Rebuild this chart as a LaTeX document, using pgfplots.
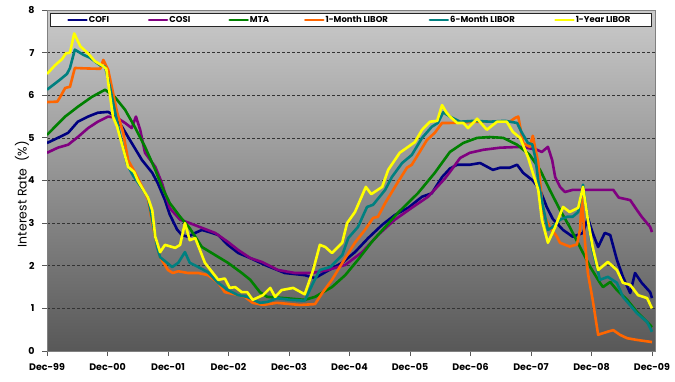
\documentclass[border=0pt]{standalone}
\usepackage{fontspec}
\setmainfont{Poppins}
\usepackage{pgfplots}
\pgfplotsset{compat=1.18}
\definecolor{cofi}{RGB}{0,0,128}
\definecolor{cosi}{RGB}{128,0,128}
\definecolor{mta}{RGB}{0,128,0}
\definecolor{onem}{RGB}{255,102,0}
\definecolor{sixm}{RGB}{0,128,128}
\definecolor{oney}{RGB}{255,255,0}
\definecolor{bgtop}{RGB}{202,202,202}
\definecolor{bgbot}{RGB}{88,88,88}
\begin{document}
\begin{tikzpicture}
\useasboundingbox (0,0) rectangle (675pt,381pt);
\begin{axis}[
  at={(47pt,30pt)}, anchor=south west,
  scale only axis, width=608pt, height=341pt,
  xmin=0, xmax=10.05, ymin=0, ymax=8,
  xtick={0,1,2,3,4,5,6,7,8,9,10},
  xticklabels={Dec-99,Dec-00,Dec-01,Dec-02,Dec-03,Dec-04,Dec-05,Dec-06,Dec-07,Dec-08,Dec-09},
  ytick={0,1,2,3,4,5,6,7,8},
  /pgf/number format/assume math mode=true,
  ticklabel style={font=\fontsize{9.5}{11}\selectfont\bfseries},
  xticklabel style={yshift=-4pt},
  yticklabel style={xshift=-4pt},
  tick align=outside, xtick pos=bottom, ytick pos=left,
  major tick length=5pt,
  tick style={black!65, line width=0.8pt},
  axis line style={black!50, line width=0.9pt},
  ymajorgrids,
  major grid style={black!80, line width=0.6pt, dash pattern=on 3pt off 2pt},
  axis background/.style={top color=bgtop, bottom color=bgbot},
  ylabel={Interest Rate\ \ (\%)},
  every axis y label/.style={at={(rel axis cs:0,0.46)}, xshift=-25pt, rotate=90, anchor=center, font=\fontsize{12.5}{14}\selectfont},
  no markers,
  every axis plot/.append style={line width=2.6pt, line join=round},
  legend columns=6,
  legend style={at={(rel axis cs:0.5,1)}, yshift=-3pt, anchor=north,
    draw=black!85, fill=white, line width=0.8pt,
    font=\fontsize{8.5}{10}\selectfont\bfseries,
    inner xsep=17pt, inner ysep=1.5pt,
    nodes={inner xsep=1pt, inner ysep=1pt},
    /tikz/every even column/.append style={column sep=0pt}},
  legend image code/.code={\draw[#1, line width=2.6pt, line cap=round] (1pt,0pt) -- (19pt,0pt);},
]
\addplot[cofi] coordinates {(0,4.88)(0.18,5.0)(0.35,5.12)(0.51,5.38)(0.68,5.5)(0.84,5.59)(1.01,5.61)(1.09,5.54)(1.24,5.26)(1.40,4.88)(1.57,4.48)(1.74,4.18)(1.83,3.94)(1.95,3.54)(2.03,3.2)(2.15,2.85)(2.23,2.72)(2.33,2.68)(2.45,2.77)(2.56,2.84)(2.73,2.77)(2.83,2.72)(2.99,2.49)(3.16,2.3)(3.36,2.18)(3.60,2.02)(3.93,1.83)(4.26,1.78)(4.43,1.71)(4.60,1.85)(4.88,2.07)(5.09,2.32)(5.31,2.65)(5.54,2.96)(5.75,3.19)(5.97,3.36)(6.20,3.62)(6.36,3.7)(6.53,4.08)(6.66,4.28)(6.78,4.37)(6.99,4.37)(7.16,4.41)(7.37,4.25)(7.49,4.3)(7.65,4.3)(7.77,4.37)(7.87,4.18)(8.03,4.0)(8.15,3.78)(8.26,3.38)(8.36,3.1)(8.53,2.84)(8.69,2.68)(8.86,2.77)(8.94,3.12)(9.02,2.77)(9.11,2.44)(9.22,2.77)(9.31,2.72)(9.42,2.14)(9.52,1.74)(9.64,1.36)(9.72,1.83)(9.83,1.6)(9.97,1.38)(10,1.24)};
\addlegendentry{\makebox[58pt][l]{COFI}}
\addplot[cosi] coordinates {(0,4.65)(0.18,4.77)(0.35,4.84)(0.51,5.02)(0.68,5.23)(0.84,5.38)(1.01,5.5)(1.16,5.47)(1.29,5.35)(1.40,5.23)(1.47,5.5)(1.54,5.19)(1.62,4.65)(1.79,4.32)(1.90,3.94)(2.03,3.35)(2.20,3.08)(2.36,3.0)(2.56,2.89)(2.78,2.77)(2.99,2.56)(3.16,2.37)(3.36,2.18)(3.55,2.09)(3.82,1.9)(4.10,1.83)(4.38,1.83)(4.64,1.9)(4.93,2.02)(5.21,2.32)(5.47,2.72)(5.75,3.08)(6.03,3.36)(6.30,3.62)(6.58,4.05)(6.66,4.2)(6.83,4.53)(6.99,4.65)(7.21,4.72)(7.49,4.77)(7.85,4.79)(8.10,4.72)(8.18,4.67)(8.28,4.79)(8.35,4.48)(8.40,4.08)(8.48,3.85)(8.56,3.73)(8.69,3.78)(9.36,3.78)(9.45,3.6)(9.64,3.54)(9.75,3.31)(9.83,3.15)(9.97,2.91)(10,2.79)};
\addlegendentry{\makebox[58pt][l]{COSI}}
\addplot[mta] coordinates {(0,5.07)(0.30,5.5)(0.51,5.73)(0.74,5.96)(0.96,6.13)(1.12,5.96)(1.29,5.66)(1.45,5.26)(1.62,4.79)(1.79,4.25)(1.90,3.85)(2.03,3.47)(2.20,3.15)(2.36,2.88)(2.56,2.44)(2.78,2.25)(2.99,2.07)(3.22,1.83)(3.36,1.67)(3.52,1.38)(3.64,1.27)(3.93,1.24)(4.26,1.2)(4.43,1.27)(4.71,1.5)(4.93,1.78)(5.14,2.14)(5.37,2.56)(5.59,2.91)(5.80,3.24)(6.13,3.7)(6.41,4.18)(6.66,4.67)(6.88,4.88)(7.11,5.0)(7.32,5.02)(7.54,5.0)(7.77,4.84)(7.98,4.6)(8.15,4.25)(8.31,3.78)(8.48,3.31)(8.64,2.91)(8.81,2.44)(8.98,1.97)(9.14,1.6)(9.19,1.5)(9.31,1.62)(9.42,1.43)(9.59,1.2)(9.75,0.92)(9.92,0.68)(10,0.56)};
\addlegendentry{\makebox[53pt][l]{MTA}}
\addplot[onem] coordinates {(0,5.84)(0.17,5.85)(0.21,5.94)(0.30,6.17)(0.38,6.2)(0.46,6.64)(0.63,6.63)(0.88,6.62)(0.93,6.83)(1.01,6.6)(1.07,6.2)(1.16,5.59)(1.26,5.12)(1.34,4.48)(1.45,4.2)(1.59,3.8)(1.67,3.55)(1.74,3.0)(1.82,2.45)(1.87,2.2)(2.0,1.9)(2.08,1.83)(2.17,1.87)(2.33,1.83)(2.50,1.83)(2.66,1.78)(2.83,1.6)(2.94,1.38)(3.11,1.33)(3.27,1.27)(3.40,1.13)(3.57,1.08)(3.80,1.13)(4.18,1.08)(4.43,1.1)(4.55,1.36)(4.71,1.67)(4.93,2.18)(5.09,2.54)(5.26,2.85)(5.39,3.12)(5.47,3.15)(5.59,3.47)(5.79,3.94)(5.95,4.3)(6.03,4.37)(6.13,4.6)(6.28,4.95)(6.41,5.12)(6.53,5.35)(6.66,5.35)(7.16,5.38)(7.65,5.38)(7.74,5.47)(7.79,5.5)(7.87,4.88)(7.98,4.79)(8.03,5.05)(8.12,4.41)(8.20,3.24)(8.31,2.91)(8.43,2.68)(8.48,2.54)(8.64,2.45)(8.76,2.5)(8.81,2.84)(8.84,3.6)(8.89,2.6)(8.94,1.83)(9.02,1.2)(9.11,0.38)(9.26,0.45)(9.36,0.49)(9.47,0.38)(9.59,0.3)(9.75,0.26)(10,0.21)};
\addlegendentry{\makebox[102pt][l]{1-Month LIBOR}}
\addplot[sixm] coordinates {(0,6.13)(0.21,6.36)(0.33,6.5)(0.38,6.64)(0.46,7.07)(0.60,6.95)(0.71,6.88)(0.88,6.7)(0.96,6.67)(1.04,6.2)(1.17,5.3)(1.32,4.4)(1.42,4.12)(1.59,3.78)(1.67,3.6)(1.74,3.08)(1.82,2.44)(1.87,2.2)(2.07,1.97)(2.17,2.07)(2.28,2.32)(2.36,2.07)(2.50,1.97)(2.66,1.85)(2.83,1.6)(2.99,1.43)(3.16,1.31)(3.31,1.27)(3.52,1.13)(3.64,1.15)(3.80,1.24)(4.02,1.2)(4.26,1.18)(4.40,1.6)(4.51,1.9)(4.68,1.97)(4.88,2.25)(4.98,2.65)(5.14,2.91)(5.29,3.38)(5.39,3.43)(5.59,3.78)(5.70,4.08)(5.87,4.41)(6.03,4.6)(6.20,5.0)(6.36,5.26)(6.46,5.35)(6.55,5.6)(6.66,5.5)(6.83,5.38)(7.07,5.4)(7.32,5.38)(7.57,5.4)(7.77,5.35)(7.85,5.12)(7.95,4.88)(8.02,4.85)(8.07,4.55)(8.12,4.0)(8.20,3.38)(8.28,2.84)(8.36,2.91)(8.48,3.08)(8.60,3.15)(8.69,3.15)(8.78,3.26)(8.86,3.9)(8.94,3.1)(9.02,2.37)(9.14,1.67)(9.27,1.74)(9.42,1.6)(9.52,1.27)(9.75,0.89)(9.92,0.68)(10,0.45)};
\addlegendentry{\makebox[103pt][l]{6-Month LIBOR}}
\addplot[oney] coordinates {(0,6.5)(0.13,6.7)(0.25,6.85)(0.31,6.98)(0.38,7.0)(0.45,7.45)(0.55,7.15)(0.68,6.98)(0.79,6.8)(0.91,6.7)(0.98,6.62)(1.09,5.5)(1.16,5.26)(1.34,4.32)(1.44,4.2)(1.50,4.0)(1.67,3.6)(1.74,3.3)(1.79,2.68)(1.87,2.32)(1.95,2.49)(2.12,2.42)(2.20,2.49)(2.28,3.0)(2.36,2.6)(2.45,2.65)(2.61,2.07)(2.83,1.67)(2.94,1.7)(3.02,1.48)(3.11,1.5)(3.22,1.38)(3.31,1.38)(3.40,1.2)(3.57,1.31)(3.69,1.48)(3.77,1.27)(3.88,1.43)(4.07,1.48)(4.26,1.33)(4.40,1.9)(4.51,2.49)(4.60,2.44)(4.71,2.3)(4.88,2.54)(4.96,3.0)(5.09,3.26)(5.27,3.85)(5.36,3.68)(5.54,3.85)(5.64,4.25)(5.83,4.65)(5.90,4.72)(6.08,4.9)(6.20,5.19)(6.33,5.38)(6.45,5.4)(6.53,5.77)(6.60,5.6)(6.66,5.5)(6.78,5.35)(6.88,5.35)(6.96,5.23)(7.11,5.45)(7.27,5.19)(7.44,5.38)(7.60,5.38)(7.70,5.14)(7.82,5.0)(7.95,4.55)(8.03,4.18)(8.12,3.78)(8.18,3.08)(8.28,2.54)(8.40,2.91)(8.53,3.38)(8.64,3.26)(8.78,3.36)(8.86,3.85)(8.94,3.08)(9.02,2.44)(9.11,1.9)(9.27,2.09)(9.42,1.9)(9.52,1.6)(9.64,1.55)(9.77,1.31)(9.92,1.24)(10,1.0)};
\addlegendentry{\makebox[58pt][l]{1-Year LIBOR}}
\end{axis}
\end{tikzpicture}
\end{document}
